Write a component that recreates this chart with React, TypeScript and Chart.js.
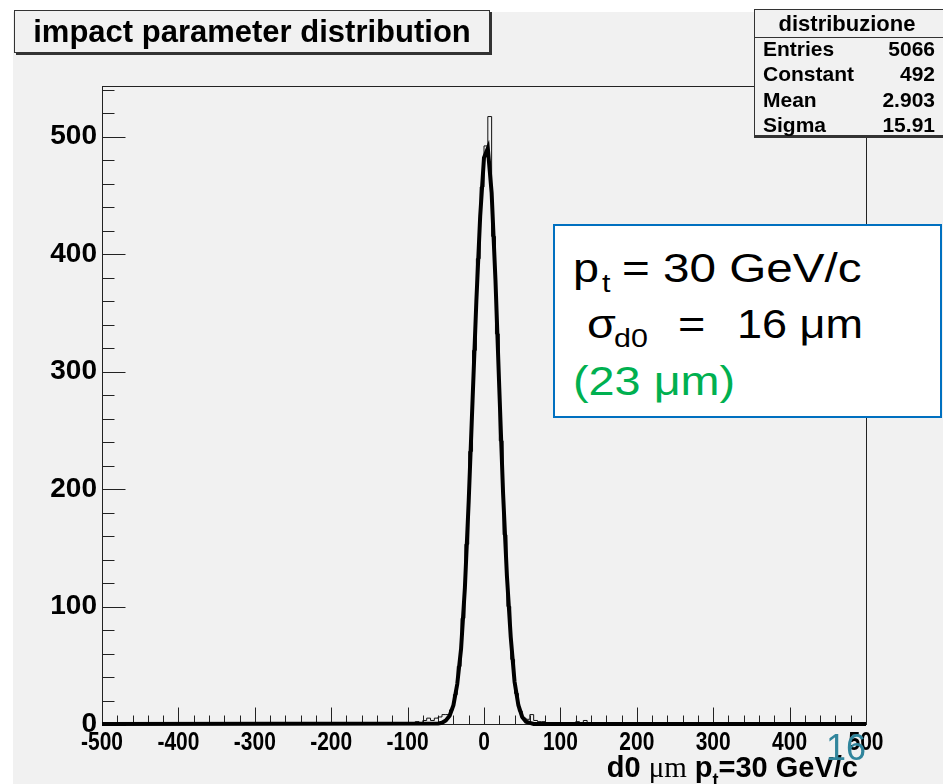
import React, { useEffect, useRef } from "react";
import { Chart, registerables } from "chart.js";

Chart.register(...registerables);

// ---------------- data ----------------
const X_RANGE = [-500, 500];
const Y_RANGE = [0, 543];
const X_TICKS = [-500, -400, -300, -200, -100, 0, 100, 200, 300, 400, 500];
const Y_TICKS = [0, 100, 200, 300, 400, 500];
const MINOR_STEP_X = 20;
const MINOR_STEP_Y = 20;

const BIN_WIDTH = 5;
const BIN_LOW = [
  -90, -85, -80, -75, -70, -65, -60, -55, -50, -45,
  -40, -35, -30, -25, -20, -15, -10, -5,
  0, 5, 10, 15, 20, 25, 30, 35, 40, 45,
  50, 55, 60, 65, 70, 75,
  85, 90, 100, 105, 120, 130, 140, 155, 190,
];
const BIN_COUNT = [
  2, 1, 3, 5, 3, 5, 6, 8, 8, 12,
  25, 49, 90, 153, 232, 318, 396, 457,
  492, 517, 415, 332, 241, 161, 100, 55, 26, 11,
  5, 4, 8, 3, 2, 2,
  1, 1, 1, 1, 2, 3, 1, 1, 1,
];

const FIT_X = [-500, -60, -55, -50, -45, -40, -35, -30, -25, -20, -15, -10, -5, 0, 5, 10, 15, 20, 25, 30, 35, 40, 45, 50, 55, 60, 65, 500];
const FIT_Y = [0, 0.5, 1, 3, 7, 16, 34, 64, 116, 190, 275, 360, 432, 482, 490, 452, 378, 286, 196, 126, 74, 36, 16, 6, 2, 1, 0, 0];

const STAT_TITLE = "distribuzione";
const STAT_LABELS = ["Entries", "Constant", "Mean", "Sigma"];
const STAT_VALUES = ["5066", "492", "2.903", "15.91"];

const TITLE = "impact parameter distribution";

// ---------------- helpers ----------------
const SANS = "'Liberation Sans', Arial, Helvetica, sans-serif";
const BG = "#f1f1f1";

function buildHist() {
  const pts: { x: number; y: number }[] = [{ x: X_RANGE[0], y: 0 }];
  for (let i = 0; i < BIN_LOW.length; i++) {
    const lo = BIN_LOW[i];
    const prev = pts[pts.length - 1];
    if (prev.x !== lo) pts.push({ x: lo, y: BIN_COUNT[i] });
    else prev.y = BIN_COUNT[i];
    const next = BIN_LOW[i + 1];
    if (next !== lo + BIN_WIDTH) pts.push({ x: lo + BIN_WIDTH, y: 0 });
  }
  pts.push({ x: X_RANGE[1], y: 0 });
  return pts;
}

const framePlugin = {
  id: "rootFrame",
  beforeDraw(chart: any) {
    const { ctx, width, height } = chart;
    ctx.save();
    ctx.fillStyle = "#ffffff";
    ctx.fillRect(0, 0, width, height);
    ctx.fillStyle = BG;
    ctx.fillRect(13, 12, width - 13, height - 12);
    ctx.restore();
  },
  beforeDatasetsDraw(chart: any) {
    const { ctx, chartArea: a, scales } = chart;
    const xs = scales.x;
    const ys = scales.y;
    ctx.save();
    ctx.strokeStyle = "#222";
    ctx.lineWidth = 1;
    const L = Math.round(a.left) + 0.5;
    const R = Math.round(a.right) + 0.5;
    const T = Math.round(a.top) + 0.5;
    const B = Math.round(a.bottom) + 0.5;
    ctx.strokeRect(L, T, R - L, B - T);
    ctx.beginPath();
    for (let v = Y_RANGE[0]; v <= Y_RANGE[1]; v += MINOR_STEP_Y) {
      const major = Y_TICKS.includes(v);
      const py = Math.round(ys.getPixelForValue(v)) + 0.5;
      ctx.moveTo(L, py);
      ctx.lineTo(L + (major ? 23 : 12), py);
    }
    for (let v = X_RANGE[0]; v <= X_RANGE[1]; v += MINOR_STEP_X) {
      const major = X_TICKS.includes(v);
      const px = Math.round(xs.getPixelForValue(v)) + 0.5;
      ctx.moveTo(px, B);
      ctx.lineTo(px, B - (major ? 17 : 9));
    }
    ctx.stroke();
    // condensed x tick labels
    ctx.fillStyle = "#000";
    ctx.font = "bold 25px 'Liberation Sans', Arial, sans-serif";
    ctx.textAlign = "center";
    ctx.textBaseline = "alphabetic";
    for (const v of X_TICKS) {
      const px = xs.getPixelForValue(v);
      ctx.save();
      ctx.translate(px, 750);
      ctx.scale(0.84, 1);
      ctx.fillText(String(v), 0, 0);
      ctx.restore();
    }
    ctx.restore();
  },
};

function Txt(props: {
  x: number;
  base: number;
  size: number;
  children: any;
  style?: any;
  right?: boolean;
}) {
  const { x, base, size, children, style, right } = props;
  const pos: any = right ? { right: 943 - x } : { left: x };
  return (
    <div
      style={{
        position: "absolute",
        ...pos,
        top: base - 0.8465 * size,
        fontSize: size,
        lineHeight: `${size}px`,
        whiteSpace: "nowrap",
        fontFamily: SANS,
        transformOrigin: right ? "right top" : "left top",
        ...style,
      }}
    >
      {children}
    </div>
  );
}

export default function App() {
  const ref = useRef<HTMLCanvasElement>(null);

  useEffect(() => {
    const hist = buildHist();
    const fit = FIT_X.map((x, i) => ({ x, y: FIT_Y[i] }));
    const chart = new Chart(ref.current as HTMLCanvasElement, {
      type: "line",
      data: {
        datasets: [
          {
            label: "fit",
            data: fit,
            borderColor: "#000",
            borderWidth: 4,
            pointRadius: 0,
            tension: 0,
            fill: false,
            order: 0,
            clip: false as any,
          },
          {
            label: "distribuzione",
            data: hist,
            borderColor: "#111",
            borderWidth: 1,
            pointRadius: 0,
            stepped: true,
            fill: false,
            order: 1,
          },
        ],
      },
      options: {
        animation: false,
        responsive: false,
        devicePixelRatio: 1,
        parsing: false as any,
        layout: { padding: { left: 0, right: 77, top: 86, bottom: 0 } },
        plugins: {
          legend: { display: false },
          tooltip: { enabled: false },
          title: { display: false },
        },
        scales: {
          x: {
            type: "linear",
            min: X_RANGE[0],
            max: X_RANGE[1],
            grid: { display: false, drawTicks: false },
            border: { display: false },
            afterBuildTicks: (s: any) => {
              s.ticks = X_TICKS.map((v) => ({ value: v }));
            },
            afterFit: (s: any) => {
              s.height = 60;
            },
            ticks: { display: false },
          },
          y: {
            type: "linear",
            min: Y_RANGE[0],
            max: Y_RANGE[1],
            grid: { display: false, drawTicks: false },
            border: { display: false },
            afterBuildTicks: (s: any) => {
              s.ticks = Y_TICKS.map((v) => ({ value: v }));
            },
            afterFit: (s: any) => {
              s.width = 102;
            },
            ticks: {
              autoSkip: false,
              padding: 5,
              color: "#000",
              font: { family: SANS, size: 28, weight: "bold" },
              callback: (v: any) => String(v),
            },
          },
        },
      },
      plugins: [framePlugin],
    } as any);
    return () => chart.destroy();
  }, []);

  const stretch = { transform: "scaleX(1.17)" };
  const statFont = { fontFamily: SANS, fontWeight: "bold", fontSize: 21, whiteSpace: "nowrap" } as any;

  return (
    <div
      style={{
        position: "absolute",
        left: 0,
        top: 0,
        width: 943,
        height: 784,
        overflow: "hidden",
        background: "#fff",
        fontFamily: SANS,
      }}
    >
      <canvas
        ref={ref}
        width={943}
        height={784}
        style={{ position: "absolute", left: 0, top: 0, width: 943, height: 784 }}
      />

      {/* title pave */}
      <div
        style={{
          position: "absolute",
          left: 14,
          top: 10,
          width: 474,
          height: 41,
          background: BG,
          border: "1px solid #333",
          boxShadow: "2px 2px 0 #333",
          display: "flex",
          alignItems: "center",
          justifyContent: "center",
          fontFamily: SANS,
          fontWeight: "bold",
          fontSize: 31,
          color: "#000",
          whiteSpace: "nowrap",
        }}
      >
        {TITLE}
      </div>

      {/* stats box */}
      <div
        style={{
          position: "absolute",
          left: 754,
          top: 9,
          width: 200,
          height: 125,
          background: BG,
          border: "1px solid #333",
          boxShadow: "0 2px 0 #333",
        }}
      />
      <div style={{ position: "absolute", left: 754, top: 37, width: 200, height: 1, background: "#333" }} />
      <div
        style={{
          ...statFont,
          position: "absolute",
          left: 747,
          width: 200,
          top: 11,
          height: 25,
          lineHeight: "25px",
          textAlign: "center",
          fontSize: 22,
        }}
      >
        {STAT_TITLE}
      </div>
      {STAT_LABELS.map((lab, i) => (
        <React.Fragment key={lab}>
          <div
            style={{
              ...statFont,
              position: "absolute",
              left: 763,
              top: 36 + i * 25.3,
              height: 25,
              lineHeight: "25px",
            }}
          >
            {lab}
          </div>
          <div
            style={{
              ...statFont,
              position: "absolute",
              right: 943 - 935,
              top: 36 + i * 25.3,
              height: 25,
              lineHeight: "25px",
              textAlign: "right",
            }}
          >
            {STAT_VALUES[i]}
          </div>
        </React.Fragment>
      ))}

      {/* annotation box */}
      <div
        style={{
          position: "absolute",
          left: 553,
          top: 224,
          width: 389,
          height: 194,
          boxSizing: "border-box",
          background: "#fff",
          border: "2px solid #0070c0",
        }}
      />
      <Txt x={573} base={282} size={40} style={stretch}>p</Txt>
      <Txt x={602} base={292} size={26} style={stretch}>t</Txt>
      <Txt x={622} base={282} size={40} style={{ transform: "scaleX(1.19)" }}>= 30 GeV/c</Txt>
      <Txt x={587} base={338} size={40} style={stretch}>σ</Txt>
      <Txt x={614} base={347} size={26} style={stretch}>d0</Txt>
      <Txt x={678} base={338} size={40} style={stretch}>=</Txt>
      <Txt x={737} base={338} size={40} style={{ transform: "scaleX(1.125)" }}>16 μm</Txt>
      <Txt x={573} base={395} size={40} style={{ ...stretch, color: "#00b050" }}>(23 μm)</Txt>

      {/* x axis title */}
      <Txt
        x={858}
        base={778}
        size={29}
        right
        style={{ fontWeight: "bold", color: "#000" }}
      >
        d0{" "}
        <span style={{ fontFamily: "'Liberation Serif', serif", fontWeight: "normal" }}>μm</span>{" "}
        p<span style={{ fontSize: 18, position: "relative", top: 9 }}>t</span>=30 GeV/c
      </Txt>

      {/* slide page number */}
      <Txt x={826} base={760} size={36} style={{ color: "#31859c" }}>16</Txt>
    </div>
  );
}
